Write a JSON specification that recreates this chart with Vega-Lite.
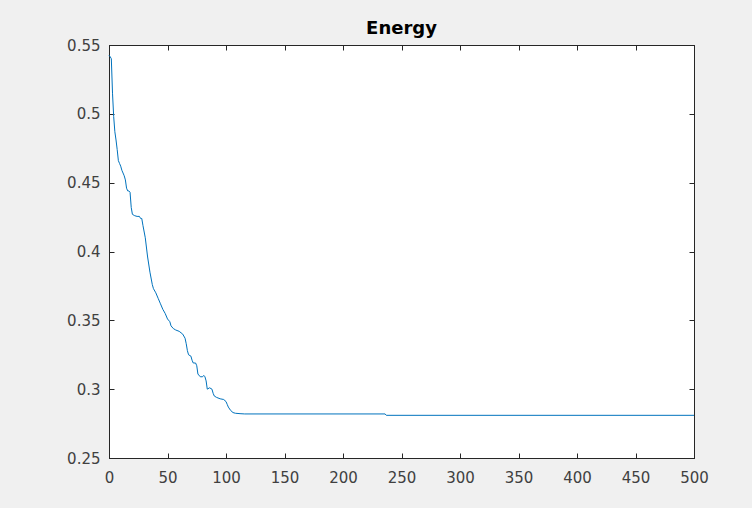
{
  "$schema": "https://vega.github.io/schema/vega-lite/v6.json",
  "width": 585,
  "height": 413,
  "autosize": {"type": "none"},
  "padding": {"left": 109, "top": 45, "right": 58, "bottom": 50},
  "background": "#f0f0f0",
  "title": {
    "text": "Energy",
    "font": "DejaVu Sans",
    "fontSize": 18,
    "fontWeight": "bold",
    "color": "#000000",
    "anchor": "middle",
    "offset": 0
  },
  "config": {
    "view": {"stroke": "#262626", "strokeWidth": 1, "fill": "#ffffff"},
    "axis": {
      "grid": false,
      "domainColor": "#262626",
      "domainWidth": 1,
      "tickColor": "#262626",
      "tickWidth": 1,
      "tickSize": -5,
      "labelFlush": false,
      "labelFont": "DejaVu Sans",
      "labelFontSize": 15,
      "labelColor": "#404040",
      "title": null
    }
  },
  "data": {
    "values": [
      {"iter": 0, "energy": 0.5425},
      {"iter": 1, "energy": 0.5415},
      {"iter": 2, "energy": 0.540},
      {"iter": 3, "energy": 0.515},
      {"iter": 4, "energy": 0.498},
      {"iter": 5, "energy": 0.487},
      {"iter": 6, "energy": 0.481},
      {"iter": 7, "energy": 0.474},
      {"iter": 8, "energy": 0.466},
      {"iter": 9, "energy": 0.464},
      {"iter": 10, "energy": 0.462},
      {"iter": 11, "energy": 0.459},
      {"iter": 12, "energy": 0.457},
      {"iter": 13, "energy": 0.455},
      {"iter": 14, "energy": 0.452},
      {"iter": 15, "energy": 0.446},
      {"iter": 16, "energy": 0.444},
      {"iter": 17, "energy": 0.444},
      {"iter": 18, "energy": 0.443},
      {"iter": 19, "energy": 0.432},
      {"iter": 20, "energy": 0.427},
      {"iter": 22, "energy": 0.426},
      {"iter": 24, "energy": 0.4255},
      {"iter": 26, "energy": 0.4255},
      {"iter": 27, "energy": 0.424},
      {"iter": 28, "energy": 0.424},
      {"iter": 29, "energy": 0.419},
      {"iter": 31, "energy": 0.410},
      {"iter": 33, "energy": 0.396},
      {"iter": 35, "energy": 0.385},
      {"iter": 37, "energy": 0.376},
      {"iter": 38, "energy": 0.373},
      {"iter": 40, "energy": 0.370},
      {"iter": 42, "energy": 0.366},
      {"iter": 44, "energy": 0.362},
      {"iter": 46, "energy": 0.358},
      {"iter": 48, "energy": 0.355},
      {"iter": 50, "energy": 0.351},
      {"iter": 52, "energy": 0.349},
      {"iter": 53, "energy": 0.346},
      {"iter": 55, "energy": 0.344},
      {"iter": 57, "energy": 0.343},
      {"iter": 60, "energy": 0.342},
      {"iter": 63, "energy": 0.340},
      {"iter": 65, "energy": 0.337},
      {"iter": 66, "energy": 0.333},
      {"iter": 67, "energy": 0.328},
      {"iter": 68, "energy": 0.325},
      {"iter": 70, "energy": 0.324},
      {"iter": 71, "energy": 0.321},
      {"iter": 72, "energy": 0.319},
      {"iter": 74, "energy": 0.319},
      {"iter": 75, "energy": 0.317},
      {"iter": 76, "energy": 0.311},
      {"iter": 78, "energy": 0.309},
      {"iter": 80, "energy": 0.309},
      {"iter": 81, "energy": 0.310},
      {"iter": 82, "energy": 0.309},
      {"iter": 83, "energy": 0.306},
      {"iter": 84, "energy": 0.300},
      {"iter": 86, "energy": 0.301},
      {"iter": 88, "energy": 0.300},
      {"iter": 89, "energy": 0.297},
      {"iter": 90, "energy": 0.295},
      {"iter": 92, "energy": 0.294},
      {"iter": 95, "energy": 0.293},
      {"iter": 98, "energy": 0.2925},
      {"iter": 100, "energy": 0.291},
      {"iter": 101, "energy": 0.289},
      {"iter": 102, "energy": 0.287},
      {"iter": 104, "energy": 0.2845},
      {"iter": 106, "energy": 0.283},
      {"iter": 108, "energy": 0.2825},
      {"iter": 112, "energy": 0.2822},
      {"iter": 116, "energy": 0.2820},
      {"iter": 236, "energy": 0.2820},
      {"iter": 237, "energy": 0.2810},
      {"iter": 500, "energy": 0.2810}
    ]
  },
  "layer": [
    {
      "mark": {"type": "line", "color": "#0072BD", "strokeWidth": 1},
      "encoding": {
        "x": {"field": "iter", "type": "quantitative", "scale": {"domain": [0, 500], "nice": false, "zero": false},
              "axis": {"orient": "bottom", "values": [0,50,100,150,200,250,300,350,400,450,500], "labelPadding": 17}},
        "y": {"field": "energy", "type": "quantitative", "scale": {"domain": [0.25, 0.55], "nice": false, "zero": false},
              "axis": {"orient": "left", "values": [0.25,0.3,0.35,0.4,0.45,0.5,0.55], "format": "~g", "labelPadding": 14}}
      }
    },
    {
      "mark": {"type": "line", "strokeOpacity": 0},
      "encoding": {
        "x": {"field": "iter", "type": "quantitative",
              "axis": {"orient": "top", "values": [0,50,100,150,200,250,300,350,400,450,500], "labels": false}},
        "y": {"field": "energy", "type": "quantitative",
              "axis": {"orient": "right", "values": [0.25,0.3,0.35,0.4,0.45,0.5,0.55], "labels": false}}
      }
    }
  ],
  "resolve": {"axis": {"x": "independent", "y": "independent"}}
}
